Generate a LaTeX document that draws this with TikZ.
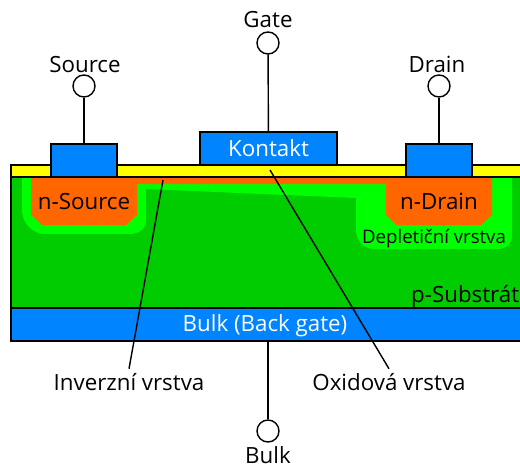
\documentclass[tikz,border=0pt]{standalone}
\usepackage{fontspec}
\setmainfont{Open Sans}
\usepackage{xcolor}
\usetikzlibrary{positioning,calc}
\definecolor{contactblue}{HTML}{0084FF}
\definecolor{substrategreen}{HTML}{00CC00}
\definecolor{depletiongreen}{HTML}{00FF00}
\definecolor{dopedorange}{HTML}{FF6600}
\definecolor{oxideyellow}{HTML}{FFFF00}

\begin{document}
\begin{tikzpicture}[
    x=0.02cm, y=-0.02cm,
    contact/.style={rectangle, draw=black, thick, fill=contactblue, inner sep=0pt},
    terminal/.style={circle, draw=black, thick, fill=white, inner sep=0pt, minimum size=0.44cm},
    wire/.style={draw=black, thick},
    caption/.style={font=\fontsize{12.7}{15}\selectfont, inner sep=0pt, text height=9pt, text depth=0pt}
]
\useasboundingbox (0,0) rectangle (520,466);
\clip (0,0) rectangle (520,466);

% Layers
\fill[fill=substrategreen] (11,177) rectangle (524,308);
\fill[fill=depletiongreen] (22,177) -- (22,212) .. controls (24,226) and (34,234) .. (46,234) -- (130,234) .. controls (140,234) and (146,228) .. (146,220) -- (146,189) -- (356,198) -- (356,232) .. controls (358,243) and (364,249) .. (376,249) -- (498,249) .. controls (506,249) and (512,244) .. (512,236) -- (512,177) -- cycle;
\fill[fill=dopedorange] (31,177) -- (31,215) -- (42,225) -- (126,225) -- (137,215) -- (137,184) -- (386,184) -- (386,215) -- (396,225) -- (481,225) -- (492,215) -- (492,177) -- cycle;
\draw[thick, fill=oxideyellow] (11,177) -- (11,165) -- (524,165) -- (524,177) -- cycle;
\draw[thick] (11,177) -- (11,308) -- (524,308);
\draw[thick, fill=contactblue] (11,308) rectangle (524,341);

% Contacts
\node[contact, minimum width=1.32cm, minimum height=0.66cm] (sourcecontact) at (84,160.5) {};
\node[contact, minimum width=2.74cm, minimum height=0.66cm, text=white, font=\fontsize{12.7}{15}\selectfont] (gatecontact) at (268.5,148.5) {Kontakt};
\node[contact, minimum width=1.32cm, minimum height=0.66cm] (draincontact) at (439,160.5) {};
\coordinate (bulkedge) at (268,341);

% Terminals
\node[terminal] (source) at (84,86) {};
\node[terminal] (gate) at (268,43) {};
\node[terminal] (drain) at (439,86) {};
\node[terminal] (bulk) at (268,431) {};
\node[caption] at (85,64.5) (sourcetext) {Source};
\node[caption] at (268,20) (gatetext) {Gate};
\node[caption] at (437,64.5) (draintext) {Drain};
\node[caption] at (268,456) (bulktext) {Bulk};

% Wires
\draw[wire] (source) -- (sourcecontact);
\draw[wire] (gate) -- (gatecontact);
\draw[wire] (drain) -- (draincontact);
\draw[wire] (bulk) -- (bulkedge);

% Region labels
\node[caption] at (84,202) (nsource) {n-Source};
\node[caption] at (439,202) (ndrain) {n-Drain};
\node[caption, font=\fontsize{10.6}{12}\selectfont] at (434,236) (depletion) {Depletiční vrstva};
\node[caption, anchor=east] at (519.5,295) (substrate) {p-Substrát};
\node[caption, text=white] at (265,324) (backgate) {Bulk (Back gate)};

% Leader lines
\node[caption] at (129,383) (inversion) {Inverzní vrstva};
\node[caption] at (389,383) (oxide) {Oxidová vrstva};
\coordinate (inversiontip) at (163,180);
\coordinate (oxidetip) at (270,170);
\draw[wire] (inversiontip) -- ($(inversion.north)+(0,-6)$);
\draw[wire] (oxidetip) -- ($(oxide.north)+(0,-6)$);

\end{tikzpicture}
\end{document}
